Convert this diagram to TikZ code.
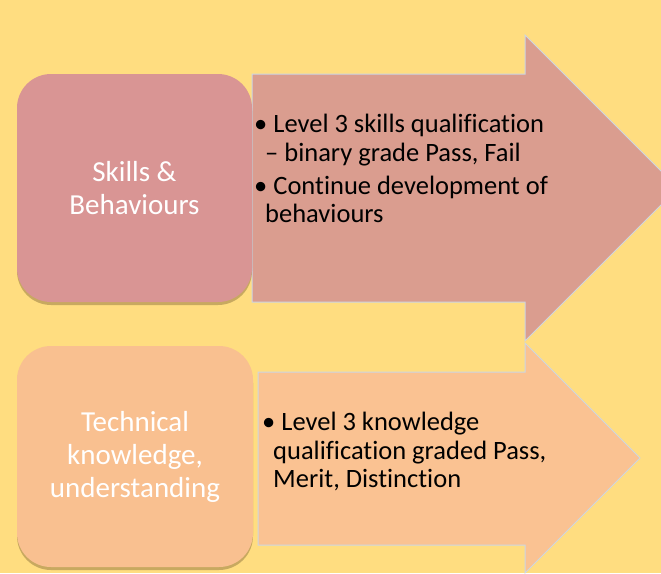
\documentclass[tikz,border=0pt]{standalone}
\usepackage{fontspec}
\setmainfont{Carlito}[Ligatures=NoCommon]
\usetikzlibrary{calc, shadows}

\definecolor{pageYellow}{RGB}{255,221,128}
\definecolor{skillsRose}{RGB}{217,149,148}
\definecolor{skillsArrow}{RGB}{218,157,143}
\definecolor{techPeach}{RGB}{249,192,144}
\definecolor{techArrow}{RGB}{250,194,146}
\definecolor{arrowEdge}{RGB}{205,214,226}

\begin{document}
\begin{tikzpicture}[x=1pt, y=-1pt,
    topicBox/.style={rounded corners=34pt, inner sep=0pt, align=center,
        text=white, font=\fontsize{29}{33}\selectfont,
        general shadow={shadow yshift=-3pt, fill=black!60!brown, opacity=.3}},
    bigArrow/.style={draw=arrowEdge, line width=1pt, line join=miter},
    bulletText/.style={anchor=north west, inner sep=0pt, align=left,
        font=\fontsize{26.5}{28.5}\selectfont}]
    % page
    \fill [pageYellow] (0,0) rectangle (661,573);
    \useasboundingbox (0,0) rectangle (661,573);
    \clip (0,0) rectangle (661,573);
    % arrows behind the boxes
    \filldraw [bigArrow, fill=skillsArrow] (252,74) -- (525,74) -- (525,35)
        -- (678,188) -- (525,341) -- (525,302) -- (252,302) -- cycle;
    \filldraw [bigArrow, fill=techArrow] (258,372) -- (525,372) -- (525,343)
        -- (640,458) -- (525,573) -- (525,545) -- (258,545) -- cycle;
    % boxes
    \node [topicBox, fill=skillsRose, minimum width=235pt, minimum height=228pt]
        (skills) at (134.5,188) {Skills \&\\Behaviours};
    \node [topicBox, fill=techPeach, minimum width=236pt, minimum height=221pt]
        (technical) at (135,456.5) {Technical\\knowledge,\\understanding};
    % bullet texts
    \node [bulletText] (skillsNotes) at (254,114)
        {\textbullet\ Level 3 skills qualification\\
         \hspace*{11pt}– binary grade Pass, Fail\\[4.5pt]
         \textbullet\ Continue development of\\
         \hspace*{11pt}behaviours};
    \node [bulletText] (techNotes) at (262,412)
        {\textbullet\ Level 3 knowledge\\
         \hspace*{11pt}qualification graded Pass,\\
         \hspace*{11pt}Merit, Distinction};
\end{tikzpicture}
\end{document}
